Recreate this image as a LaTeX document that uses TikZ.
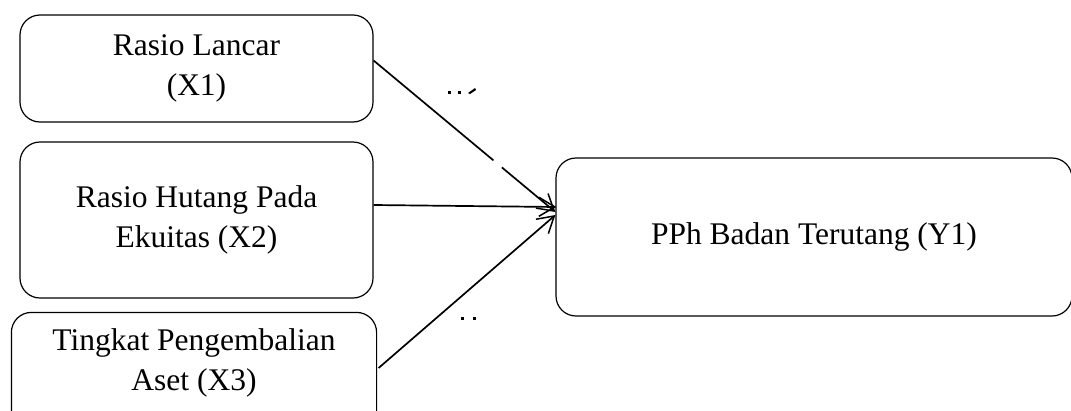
\documentclass[tikz,border=0pt]{standalone}
\usepackage{fontspec}
\setmainfont{Liberation Serif}
\usetikzlibrary{arrows.meta,calc}
\begin{document}
\begin{tikzpicture}[x=1pt,y=-1pt,
  boxline/.style={draw=black, line width=1.2pt, rounded corners=20pt},
  varbox/.style={boxline, align=center, inner sep=0pt, font=\fontsize{31.5}{40}\selectfont},
  link/.style={line width=1.7pt, -{Straight Barb[length=16pt,width=19pt,line width=1.5pt]}}]
  \clip (0,0) rectangle (1071,410);
  \fill[white] (0,0) rectangle (1071,410);

  % independent variables
  \node[varbox, minimum width=353pt, minimum height=107pt] (X1) at (196.5,68.5)
    {Rasio Lancar\\(X1)};
  \node[varbox, minimum width=353pt, minimum height=156pt] (X2) at (196.5,220)
    {Rasio Hutang Pada\\Ekuitas (X2)};
  \node[varbox, draw=none, minimum width=364pt, minimum height=100pt] (X3) at (194,363)
    {Tingkat Pengembalian\\Aset (X3)};
  % the third box runs past the lower edge of the page
  \draw[boxline] (X3.north west) rectangle ($(X3.south east)+(0,20)$);

  % dependent variable
  \node[varbox, minimum width=516pt, minimum height=158pt] (Y1) at (814,237)
    {PPh Badan Terutang (Y1)};

  % connector end points
  \coordinate (s1) at ($(X1.east)+(0,-8)$);
  \coordinate (s2) at ($(X2.east)+(0,-15)$);
  \coordinate (s3) at ($(X3.east)+(2,5)$);
  \coordinate (t1) at ($(Y1.west)+(0,-25)$);
  \coordinate (t2) at ($(Y1.west)+(1,-30)$);
  \coordinate (t3) at ($(Y1.west)+(0,-22)$);

  \draw[link] (s1) -- (t1);
  \draw[white, line width=3.5pt] ($(s1)!0.66!(t1)$) -- ($(s1)!0.705!(t1)$);
  \draw[link] (s2) -- (t2);
  \draw[link] (s3) -- (t3);

  % small marks beside the connectors
  \fill (448,91) rectangle (451,94);
  \fill (458,91) rectangle (461,94);
  \fill (468,93) -- (475,88) -- (476,90) -- (470,94) -- cycle;
  \fill (461,317) rectangle (464,320);
  \fill (473,317) rectangle (476,320);
\end{tikzpicture}
\end{document}
